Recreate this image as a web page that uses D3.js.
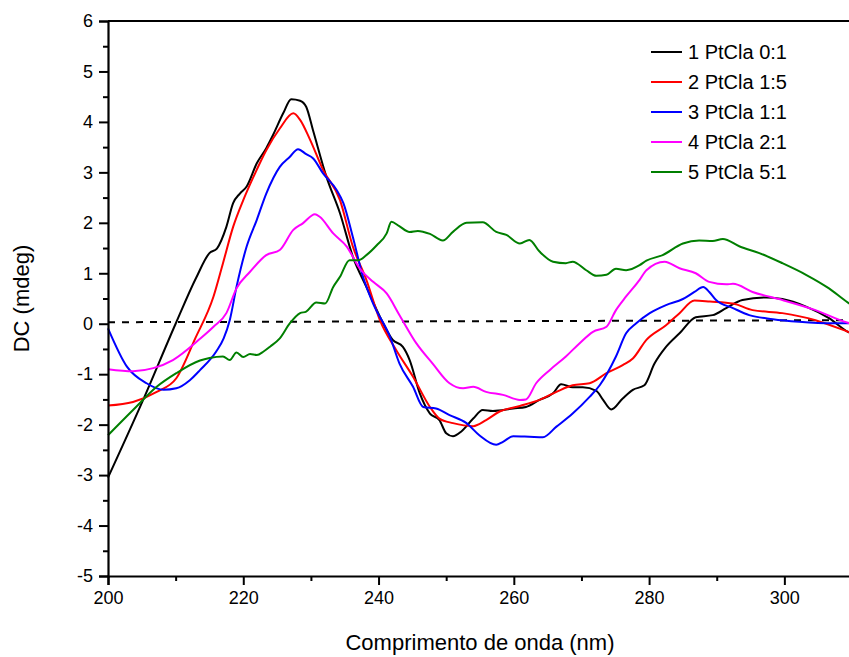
<!DOCTYPE html>
<html>
<head>
<meta charset="utf-8">
<script src="https://cdn.jsdelivr.net/npm/d3@7"></script>
<style>
  body { margin: 0; background: #fff; }
  svg { font-family: "Liberation Sans", Arial, sans-serif; display: block; }
</style>
</head>
<body>
<div id="chart"></div>
<script>
// Data, [wavelength (nm), CD (mdeg)].
var seriesNames = ["1 PtCla 0:1", "2 PtCla 1:5", "3 PtCla 1:1", "4 PtCla 2:1", "5 PtCla 5:1"];
var seriesColors = ["#000000", "#ff0000", "#0000ff", "#ff00ff", "#007f00"];

var black01 = [
  [200, -3.05], [205, -1.57], [210, 0.0], [213, 0.9], [215, 1.40], [216.1, 1.49], [217.5, 1.92],
  [218.5, 2.39], [219.5, 2.58], [220.5, 2.72], [222, 3.18], [223.4, 3.48], [224.4, 3.74],
  [225.9, 4.17], [227.1, 4.45], [228.4, 4.42], [229.3, 4.30], [230.3, 3.84], [232.3, 2.91],
  [234.3, 2.19], [236.2, 1.33], [238.2, 0.73], [240.2, 0.14], [242.1, -0.32], [243.6, -0.46],
  [244.6, -0.72], [246.1, -1.38], [247.6, -1.78], [249, -1.91], [250, -2.17], [251, -2.23],
  [252.2, -2.14], [254, -1.88], [255.4, -1.71], [256.9, -1.73], [259.9, -1.68], [261.8, -1.65],
  [263.8, -1.51], [265.8, -1.38], [267, -1.20], [268.7, -1.26], [270.2, -1.26], [272.2, -1.33],
  [273.2, -1.51], [274.4, -1.70], [276.1, -1.48], [277.6, -1.31], [279.3, -1.22], [280.8, -0.79],
  [282.5, -0.46], [284.5, -0.19], [286.9, 0.13], [289.4, 0.17], [291.4, 0.31], [293.8, 0.47],
  [297.3, 0.52], [299.7, 0.49], [303.2, 0.34], [306.6, 0.11], [309.4, -0.16], [310, -0.2]
];

var red15 = [
  [200, -1.62], [203.7, -1.55], [207.2, -1.35], [210.1, -1.08], [212.9, -0.29], [215.6, 0.54],
  [217, 1.20], [218.5, 1.92], [220, 2.45], [221.5, 2.91], [223.4, 3.44], [225.4, 3.87],
  [227.4, 4.17], [228.4, 4.04], [229.8, 3.67], [231.8, 3.05], [234.3, 2.45], [236.2, 1.53],
  [238.2, 0.87], [240.2, 0.07], [242.6, -0.52], [245.1, -1.05], [247.6, -1.65], [249, -1.88],
  [251, -1.97], [254, -2.03], [255.9, -1.91], [257.9, -1.74], [260.9, -1.63], [263.8, -1.51],
  [266.3, -1.35], [268.7, -1.22], [271.2, -1.18], [273.7, -0.98], [276.1, -0.82], [277.6, -0.69],
  [279.6, -0.32], [282.5, -0.03], [284.5, 0.21], [286.7, 0.46], [289, 0.44], [292.4, 0.40],
  [295.3, 0.27], [299.7, 0.21], [304.6, 0.07], [309.4, -0.16], [310, -0.19]
];

var blue11 = [
  [200, -0.09], [202.8, -0.85], [205.7, -1.18], [208.2, -1.31], [210.1, -1.28], [212.1, -1.12],
  [213.6, -0.92], [216, -0.55], [217.1, -0.29], [218, 0.07], [219, 0.73], [220.5, 1.53],
  [222, 2.06], [223.4, 2.58], [225.4, 3.11], [226.9, 3.31], [228.1, 3.46], [229.3, 3.36],
  [230.3, 3.28], [231.8, 2.98], [233.8, 2.65], [234.8, 2.39], [236.2, 1.72], [237.7, 0.93],
  [239.2, 0.40], [241.7, -0.26], [243.1, -0.79], [245.1, -1.25], [246.6, -1.65], [248.5, -1.68],
  [250.5, -1.81], [253, -1.97], [254.9, -2.21], [257.4, -2.40], [258.4, -2.34], [259.9, -2.23],
  [262.3, -2.24], [264.3, -2.25], [266.3, -2.04], [268.7, -1.78], [271.2, -1.45], [272.7, -1.22],
  [275.1, -0.65], [276.6, -0.19], [278.1, 0.01], [280.1, 0.21], [282.5, 0.37], [285, 0.49],
  [286.7, 0.63], [288, 0.73], [288.9, 0.63], [289.9, 0.47], [292.4, 0.31], [294.8, 0.17],
  [298.3, 0.09], [302.2, 0.04], [307.1, 0.01], [310, 0.01]
];

var magenta21 = [
  [200, -0.90], [203.7, -0.94], [206.7, -0.88], [209.6, -0.72], [213.6, -0.30], [215.6, -0.06],
  [217.5, 0.21], [219, 0.70], [221, 1.03], [223.4, 1.36], [225.4, 1.46], [227.4, 1.86],
  [228.8, 1.99], [230.6, 2.17], [231.3, 2.12], [233.3, 1.79], [235.3, 1.53], [237.2, 1.10],
  [239.2, 0.83], [241.2, 0.60], [243.1, 0.17], [245.6, -0.39], [248, -0.79], [250.5, -1.18],
  [252.5, -1.28], [254, -1.25], [255.9, -1.35], [258.4, -1.41], [260.9, -1.51], [261.8, -1.50],
  [263.3, -1.18], [265.3, -0.92], [267.7, -0.65], [269.7, -0.39], [271.7, -0.16], [273.7, -0.06],
  [275.1, 0.27], [276.6, 0.54], [278.6, 0.87], [279.6, 1.06], [282.3, 1.23], [284.5, 1.10],
  [286.9, 1.00], [288.9, 0.83], [291.4, 0.78], [292.4, 0.79], [295.3, 0.63], [299.7, 0.47],
  [304.6, 0.27], [309.4, 0.02], [310, 0.0]
];

var green51 = [
  [200, -2.21], [203.7, -1.71], [207.2, -1.25], [210.1, -0.98], [213.6, -0.73], [215, -0.68],
  [217, -0.65], [218, -0.72], [219, -0.57], [220, -0.66], [221, -0.60], [222, -0.62],
  [223, -0.55], [224, -0.45], [225.4, -0.29], [226.9, 0.01], [228.4, 0.21], [229.3, 0.24],
  [230.8, 0.42], [232.1, 0.40], [233.3, 0.73], [234.3, 0.93], [235.7, 1.26], [237, 1.26],
  [238.2, 1.36], [239.7, 1.55], [241.2, 1.79], [241.9, 2.02], [243, 1.94], [244.6, 1.82],
  [245.8, 1.84], [247.6, 1.78], [249.5, 1.65], [251, 1.82], [253, 2.00], [255.4, 2.01],
  [257.4, 1.82], [258.9, 1.76], [260.9, 1.59], [262.3, 1.66], [263.8, 1.43], [265.8, 1.23],
  [267.7, 1.20], [268.7, 1.23], [270.7, 1.06], [272.2, 0.95], [273.7, 0.97], [275.1, 1.09],
  [276.6, 1.06], [278.6, 1.16], [279.6, 1.25], [282, 1.36], [285, 1.59], [287.4, 1.65],
  [289.4, 1.64], [290.9, 1.68], [293.4, 1.53], [296.3, 1.40], [299.7, 1.20], [303.2, 0.97],
  [306.6, 0.70], [309.4, 0.42], [310, 0.37]
];

var baseline = [[200, 0.03], [310, 0.07]];

var xTicks = [200, 220, 240, 260, 280, 300];
var yTicks = [-5, -4, -3, -2, -1, 0, 1, 2, 3, 4, 5, 6];

var allSeries = [black01, red15, blue11, magenta21, green51];

// Plot and window layout.
var svgWidth = 849;
var svgHeight = 657;
var margin = { top: 21, left: 108 };
var width = 744;
var height = 555;

var xScale = d3.scaleLinear().domain([200, 310]).range([0, width]);
var yScale = d3.scaleLinear().domain([-5, 6]).range([height, 0]);

var svg = d3.select("#chart").append("svg")
  .attr("width", svgWidth)
  .attr("height", svgHeight);

var g = svg.append("g")
  .attr("transform", "translate(" + margin.left + "," + margin.top + ")");

// Dashed zero reference line.
var line = d3.line()
  .x(function(d) { return xScale(d[0]); })
  .y(function(d) { return yScale(d[1]); });

g.append("path")
  .attr("d", line(baseline))
  .attr("fill", "none")
  .attr("stroke", "#000")
  .attr("stroke-width", 2)
  .attr("stroke-dasharray", "7,7");

// Spectra.
var smooth = d3.line()
  .x(function(d) { return xScale(d[0]); })
  .y(function(d) { return yScale(d[1]); })
  .curve(d3.curveMonotoneX);

g.selectAll(".spectrum")
  .data(allSeries)
  .enter().append("path")
  .attr("class", "spectrum")
  .attr("d", function(d) { return smooth(d); })
  .attr("fill", "none")
  .attr("stroke", function(d, i) { return seriesColors[i]; })
  .attr("stroke-width", 2)
  .attr("stroke-linejoin", "round");

// Axes: major ticks with labels, minor ticks halfway.
// Plain hyphen for negatives, like the original plot.
var plain = function(d) { return String(d); };
var xMinor = d3.range(210, 311, 20);
var yMinor = d3.range(-4.5, 6, 1);

g.append("g")
  .attr("transform", "translate(0," + height + ")")
  .call(d3.axisBottom(xScale).tickValues(xTicks).tickSize(9).tickPadding(6).tickFormat(plain));

g.append("g")
  .attr("transform", "translate(0," + height + ")")
  .call(d3.axisBottom(xScale).tickValues(xMinor).tickSize(5).tickFormat(""))
  .select(".domain").remove();

g.append("g")
  .call(d3.axisLeft(yScale).tickValues(yTicks).tickSize(9).tickPadding(6).tickFormat(plain));

g.append("g")
  .call(d3.axisLeft(yScale).tickValues(yMinor).tickSize(5).tickFormat(""))
  .select(".domain").remove();

g.selectAll(".domain").attr("stroke-width", 2.2);
g.selectAll(".tick line").attr("stroke-width", 2);
g.selectAll(".tick text").style("font-size", "18px").attr("fill", "#000");

// Top frame line.
g.append("line")
  .attr("x1", 0).attr("x2", width)
  .attr("y1", 0).attr("y2", 0)
  .attr("stroke", "#000")
  .attr("stroke-width", 2);

// Axis titles.
svg.append("text")
  .attr("x", margin.left + width / 2)
  .attr("y", 650)
  .attr("text-anchor", "middle")
  .style("font-size", "22px")
  .text("Comprimento de onda (nm)");

svg.append("text")
  .attr("transform", "translate(29," + (margin.top + height / 2) + ") rotate(-90)")
  .attr("text-anchor", "middle")
  .style("font-size", "22px")
  .text("DC (mdeg)");

// Legend.
var legend = svg.append("g")
  .attr("transform", "translate(651,52)");

var rows = legend.selectAll(".row")
  .data(seriesNames)
  .enter().append("g")
  .attr("class", "row")
  .attr("transform", function(d, i) { return "translate(0," + (i * 30) + ")"; });

rows.append("line")
  .attr("x1", 0).attr("x2", 31)
  .attr("y1", 0).attr("y2", 0)
  .attr("stroke", function(d, i) { return seriesColors[i]; })
  .attr("stroke-width", 2);

rows.append("text")
  .attr("x", 37)
  .attr("dy", "0.36em")
  .style("font-size", "20px")
  .text(function(d) { return d; });
</script>
</body>
</html>
